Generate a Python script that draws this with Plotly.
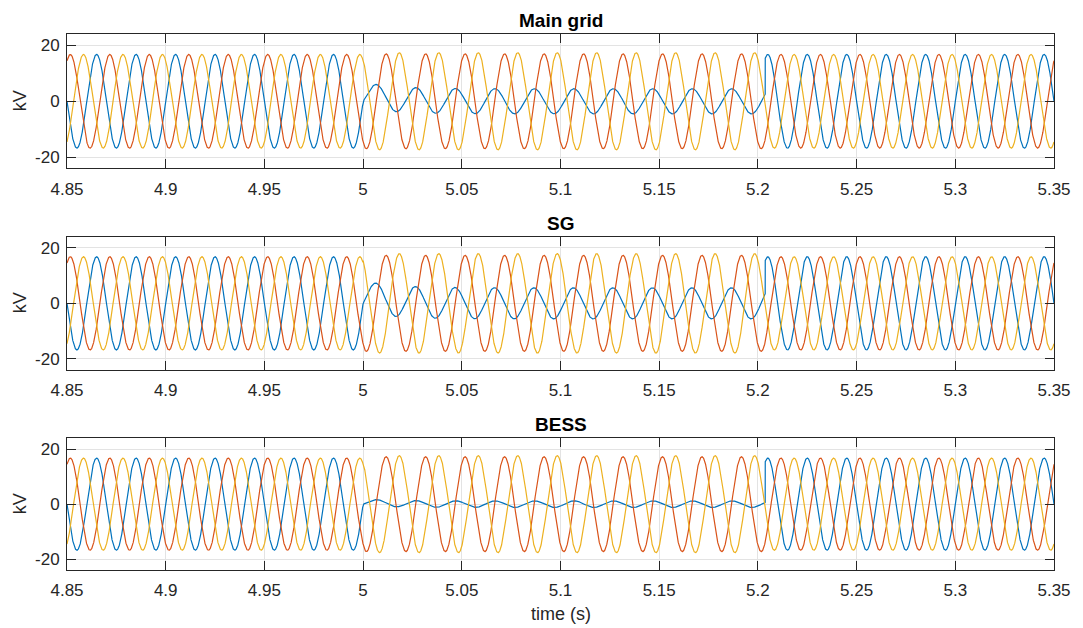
import numpy as np
import plotly.graph_objects as go

# ---------------- data ----------------
PANEL_TITLES = ["Main grid", "SG", "BESS"]
X_TICKS = [4.85, 4.9, 4.95, 5.0, 5.05, 5.1, 5.15, 5.2, 5.25, 5.3, 5.35]
X_TICK_LABELS = ["4.85", "4.9", "4.95", "5", "5.05", "5.1", "5.15", "5.2", "5.25", "5.3", "5.35"]
Y_TICKS = [-20, 0, 20]
Y_TICK_LABELS = ["-20", "0", "20"]

T_START, T_END = 4.85, 5.35
F_HZ = 50.0
T_FAULT_ON = 5.0
T_FAULT_OFF = 5.2037

# peak phase voltages (kV) per panel
PREFAULT_PEAK = [16.8, 16.8, 16.8]
FAULT_PEAK_A = [4.5, 5.6, 1.2]      # faulted phase (blue)
FAULT_LAG_A_DEG = [32.0, 28.0, 35.0]
FAULT_PEAK_B = [17.0, 17.3, 17.3]   # red
FAULT_PEAK_C = [17.4, 17.9, 17.7]   # yellow
DC_TAU_S = 0.015

PHASE_NAMES = ["Va", "Vb", "Vc"]
PHASE_COLORS = ["#0072BD", "#D95319", "#EDB120"]

# ---------------- waveform reconstruction ----------------
t = np.arange(T_START, T_END + 1e-9, 2.5e-5)
w = 2 * np.pi * F_HZ
fault = (t >= T_FAULT_ON) & (t < T_FAULT_OFF)
offsets = [0.0, -2 * np.pi / 3, 2 * np.pi / 3]


def panel_waves(i):
    A0 = PREFAULT_PEAK[i]
    lag = np.deg2rad(FAULT_LAG_A_DEG[i])
    va = A0 * np.sin(w * t)
    d0 = FAULT_PEAK_A[i] * np.sin(lag)
    va_f = FAULT_PEAK_A[i] * np.sin(w * t - lag) + d0 * np.exp(-(t - T_FAULT_ON) / DC_TAU_S)
    va = np.where(fault, va_f, va)
    vb = np.where(fault, FAULT_PEAK_B[i], A0) * np.sin(w * t + offsets[1])
    vc = np.where(fault, FAULT_PEAK_C[i], A0) * np.sin(w * t + offsets[2])
    return [va, vb, vc]


# ---------------- figure ----------------
W, H = 1083, 628
L, R, T, B = 67, 26, 34, 58
ph = H - T - B
boxes = [(34.3, 168.3), (236.7, 370.0), (438.3, 570.0)]
domains = [[(H - B - b) / ph, (H - B - tp) / ph] for tp, b in boxes]
domains = [[max(0, d0), min(1, d1)] for d0, d1 in domains]

fig = go.Figure()
FONT = "Liberation Sans, Arial, Helvetica, sans-serif"
TXT = "#262626"

for i in range(3):
    waves = panel_waves(i)
    xa = "x" if i == 0 else f"x{i+1}"
    ya = "y" if i == 0 else f"y{i+1}"
    for k in range(3):
        fig.add_trace(go.Scatter(x=t, y=waves[k], mode="lines", name=PHASE_NAMES[k],
                                 line=dict(color=PHASE_COLORS[k], width=1.2),
                                 xaxis=xa, yaxis=ya, showlegend=False, hoverinfo="skip"))
    axcommon = dict(showline=True, linecolor=TXT, linewidth=1, mirror="ticks",
                    ticks="inside", ticklen=9, tickcolor=TXT, tickwidth=1,
                    showgrid=True, gridcolor="#e3e3e3", gridwidth=1, zeroline=False,
                    tickfont=dict(family=FONT, size=17, color=TXT))
    xkey = "xaxis" if i == 0 else f"xaxis{i+1}"
    ykey = "yaxis" if i == 0 else f"yaxis{i+1}"
    fig.layout[xkey] = dict(axcommon, domain=[0, 1], range=[T_START, T_END],
                            tickvals=X_TICKS, ticktext=X_TICK_LABELS, anchor=ya,
                            ticklabelstandoff=5)
    fig.layout[ykey] = dict(axcommon, domain=domains[i], range=[-24, 24],
                            tickvals=Y_TICKS, ticktext=Y_TICK_LABELS, anchor=xa,
                            ticklabelstandoff=3)
    # panel title
    fig.add_annotation(text=f"<b>{PANEL_TITLES[i]}</b>", xref="paper", yref="paper",
                       x=0.5, y=domains[i][1], xanchor="center", yanchor="bottom",
                       yshift=1, showarrow=False,
                       font=dict(family=FONT, size=19, color="#000000"))
    # y label
    fig.add_annotation(text="kV", xref="paper", yref="paper", x=0,
                       y=(domains[i][0] + domains[i][1]) / 2, xanchor="center",
                       yanchor="middle", xshift=-47, textangle=-90, showarrow=False,
                       font=dict(family=FONT, size=18, color=TXT))

fig.add_annotation(text="time (s)", xref="paper", yref="paper", x=0.5, y=0,
                   xanchor="center", yanchor="top", yshift=-32, showarrow=False,
                   font=dict(family=FONT, size=18, color=TXT))

fig.update_layout(width=W, height=H, margin=dict(l=L, r=R, t=T, b=B),
                  paper_bgcolor="white", plot_bgcolor="white", showlegend=False)

fig.write_html("out.html", config={"displayModeBar": False},
               post_script="document.body.style.margin='0';")
